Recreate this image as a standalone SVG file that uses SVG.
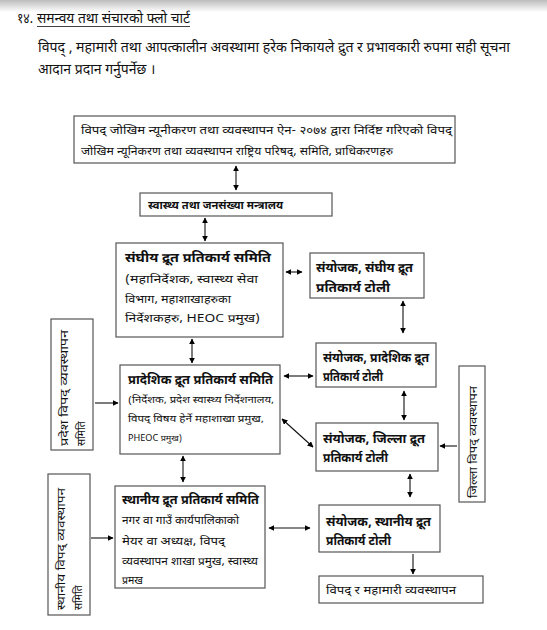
<svg xmlns="http://www.w3.org/2000/svg" width="547" height="630" viewBox="0 0 547 630">
<defs>
<linearGradient id="shade" x1="0" y1="0" x2="0" y2="1">
<stop offset="0" stop-color="#bdbdbd"/>
<stop offset="1" stop-color="#ffffff"/>
</linearGradient>
<marker id="ah" viewBox="0 0 10 10" refX="9" refY="5" markerWidth="6" markerHeight="6" markerUnits="userSpaceOnUse" orient="auto-start-reverse">
<path d="M0,0 L10,5 L0,10 z" fill="#000"/>
</marker>
<style>
text{font-family:"Noto Sans Devanagari","Noto Sans","Liberation Sans",sans-serif;fill:#111;}
.box{fill:#fff;stroke:#555;stroke-width:1.2;}
.con line{stroke:#111;stroke-width:1.1;}
.b{font-weight:bold;font-size:12.5px;}
.n{font-size:10.5px;}
.h{font-size:14px;}
</style>
</defs>
<rect x="0" y="0" width="547" height="630" fill="#fff"/>
<rect x="0" y="0" width="547" height="12" fill="url(#shade)"/>

<g id="heading">
<text class="h" x="17" y="23" textLength="16" lengthAdjust="spacingAndGlyphs">१४.</text>
<text class="h" x="37" y="23" textLength="153" lengthAdjust="spacingAndGlyphs">समन्वय तथा संचारको फ्लो चार्ट</text>
<line x1="37" y1="26.5" x2="190" y2="26.5" stroke="#111" stroke-width="0.8"/>
</g>
<g id="intro">
<text class="h" x="38" y="52" textLength="472" lengthAdjust="spacingAndGlyphs">विपद् , महामारी तथा आपत्कालीन अवस्थामा हरेक निकायले द्रुत र प्रभावकारी रुपमा सही सूचना</text>
<text class="h" x="38" y="74">आदान प्रदान गर्नुपर्नेछ ।</text>
</g>

<g class="con" id="connectors">
<line x1="236" y1="166" x2="236" y2="190" marker-start="url(#ah)" marker-end="url(#ah)"/>
<line x1="205" y1="218" x2="205" y2="241" marker-start="url(#ah)" marker-end="url(#ah)"/>
<line x1="286" y1="272" x2="302" y2="272" marker-start="url(#ah)" marker-end="url(#ah)"/>
<line x1="403" y1="301" x2="403" y2="333" marker-start="url(#ah)" marker-end="url(#ah)"/>
<line x1="192" y1="339" x2="192" y2="363" marker-start="url(#ah)" marker-end="url(#ah)"/>
<line x1="95" y1="403" x2="118" y2="403" marker-end="url(#ah)"/>
<line x1="284" y1="376" x2="313" y2="376" marker-start="url(#ah)" marker-end="url(#ah)"/>
<line x1="404" y1="391" x2="404" y2="420" marker-start="url(#ah)" marker-end="url(#ah)"/>
<line x1="282" y1="419" x2="313" y2="447" marker-start="url(#ah)" marker-end="url(#ah)"/>
<line x1="457" y1="446" x2="440" y2="446" marker-end="url(#ah)"/>
<line x1="410" y1="474" x2="410" y2="497" marker-start="url(#ah)" marker-end="url(#ah)"/>
<line x1="183" y1="456" x2="183" y2="482" marker-start="url(#ah)" marker-end="url(#ah)"/>
<line x1="91" y1="538" x2="113" y2="538" marker-end="url(#ah)"/>
<line x1="269" y1="528" x2="310" y2="528" marker-start="url(#ah)" marker-end="url(#ah)"/>
<line x1="413" y1="554" x2="413" y2="574" marker-end="url(#ah)"/>
</g>

<g id="top-authority">
<rect class="box" x="74" y="116" width="381" height="47"/>
<text class="n" x="81" y="134" textLength="371" lengthAdjust="spacingAndGlyphs">विपद् जोखिम न्यूनीकरण तथा व्यवस्थापन ऐन- २०७४ द्वारा निर्दिष्ट गरिएको विपद्</text>
<text class="n" x="81" y="155" textLength="312" lengthAdjust="spacingAndGlyphs">जोखिम न्यूनिकरण तथा व्यवस्थापन राष्ट्रिय परिषद्, समिति, प्राधिकरणहरु</text>
</g>

<g id="ministry">
<rect class="box" x="140" y="193" width="192" height="23"/>
<text x="148" y="209" font-size="11" font-weight="bold" textLength="135" lengthAdjust="spacingAndGlyphs">स्वास्थ्य तथा जनसंख्या मन्त्रालय</text>
</g>

<g id="federal-committee">
<rect class="box" x="116" y="243" width="167" height="94"/>
<text class="b" x="125" y="262" textLength="146" lengthAdjust="spacingAndGlyphs">संघीय द्रूत प्रतिकार्य समिति</text>
<text class="n" x="125" y="283" textLength="133" lengthAdjust="spacingAndGlyphs">(महानिर्देशक, स्वास्थ्य सेवा</text>
<text class="n" x="125" y="303" textLength="106" lengthAdjust="spacingAndGlyphs">विभाग, महाशाखाहरुका</text>
<text class="n" x="125" y="322" textLength="135" lengthAdjust="spacingAndGlyphs">निर्देशकहरु, HEOC प्रमुख)</text>
</g>

<g id="federal-team">
<rect class="box" x="310" y="253" width="114" height="45"/>
<text class="b" x="316" y="272" textLength="97" lengthAdjust="spacingAndGlyphs">संयोजक, संघीय द्रूत</text>
<text class="b" x="316" y="292" textLength="74" lengthAdjust="spacingAndGlyphs">प्रतिकार्य टोली</text>
</g>

<g id="province-disaster-committee">
<rect class="box" x="51" y="319" width="42" height="131"/>
<text class="n" transform="translate(68,446) rotate(-90)" textLength="116" lengthAdjust="spacingAndGlyphs">प्रदेश विपद् व्यवस्थापन</text>
<text class="n" transform="translate(85,446) rotate(-90)">समिति</text>
</g>

<g id="province-committee">
<rect class="box" x="120" y="365" width="160" height="89"/>
<text class="b" x="128" y="384" textLength="145" lengthAdjust="spacingAndGlyphs">प्रादेशिक द्रूत प्रतिकार्य समिति</text>
<text x="128" y="403" font-size="9.5" textLength="146" lengthAdjust="spacingAndGlyphs">(निर्देशक, प्रदेश स्वास्थ्य निर्देशनालय,</text>
<text x="128" y="422" font-size="9.5" textLength="136" lengthAdjust="spacingAndGlyphs">विपद् विषय हेर्ने महाशाखा प्रमुख,</text>
<text x="128" y="441" font-size="8" textLength="54" lengthAdjust="spacingAndGlyphs">PHEOC प्रमुख)</text>
</g>

<g id="province-team">
<rect class="box" x="316" y="343" width="120" height="44"/>
<text class="b" x="323" y="362" textLength="106" lengthAdjust="spacingAndGlyphs">संयोजक, प्रादेशिक द्रूत</text>
<text class="b" x="323" y="381" textLength="60" lengthAdjust="spacingAndGlyphs">प्रतिकार्य टोली</text>
</g>

<g id="district-team">
<rect class="box" x="316" y="423" width="122" height="48"/>
<text class="b" x="323" y="443" textLength="102" lengthAdjust="spacingAndGlyphs">संयोजक, जिल्ला द्रूत</text>
<text class="b" x="323" y="462" textLength="65" lengthAdjust="spacingAndGlyphs">प्रतिकार्य टोली</text>
</g>

<g id="district-disaster-committee">
<rect class="box" x="459" y="366" width="26" height="136"/>
<text class="n" transform="translate(477,498) rotate(-90)" textLength="112" lengthAdjust="spacingAndGlyphs">जिल्ला विपद् व्यवस्थापन</text>
</g>

<g id="local-disaster-committee">
<rect class="box" x="48" y="474" width="42" height="141"/>
<text class="n" transform="translate(65,610) rotate(-90)" textLength="122" lengthAdjust="spacingAndGlyphs">स्थानीय विपद् व्यवस्थापन</text>
<text class="n" transform="translate(82,610) rotate(-90)">समिति</text>
</g>

<g id="local-committee">
<rect class="box" x="115" y="486" width="150" height="102"/>
<text class="b" x="122" y="504" textLength="137" lengthAdjust="spacingAndGlyphs">स्थानीय द्रूत प्रतिकार्य समिति</text>
<text class="n" x="122" y="524" textLength="117" lengthAdjust="spacingAndGlyphs">नगर वा गाउँ कार्यपालिकाको</text>
<text class="n" x="122" y="545" textLength="103" lengthAdjust="spacingAndGlyphs">मेयर वा अध्यक्ष, विपद्</text>
<text class="n" x="122" y="565" textLength="136" lengthAdjust="spacingAndGlyphs">व्यवस्थापन शाखा प्रमुख, स्वास्थ्य</text>
<text class="n" x="122" y="584">प्रमख</text>
</g>

<g id="local-team">
<rect class="box" x="319" y="505" width="121" height="47"/>
<text class="b" x="326" y="526" textLength="105" lengthAdjust="spacingAndGlyphs">संयोजक, स्थानीय द्रूत</text>
<text class="b" x="326" y="545" textLength="65" lengthAdjust="spacingAndGlyphs">प्रतिकार्य टोली</text>
</g>

<g id="disaster-management">
<rect class="box" x="319" y="576" width="164" height="27"/>
<text x="326" y="594" font-size="11" textLength="130" lengthAdjust="spacingAndGlyphs">विपद् र महामारी व्यवस्थापन</text>
</g>
</svg>
